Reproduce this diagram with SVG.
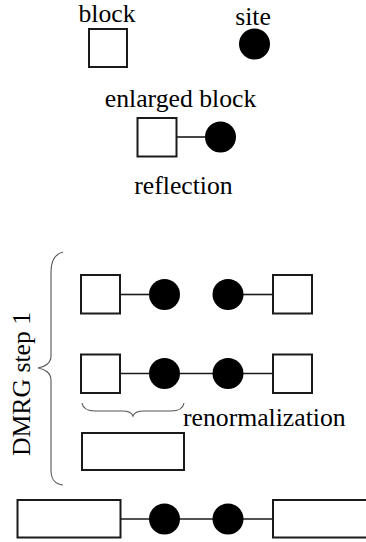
<svg xmlns="http://www.w3.org/2000/svg" width="366" height="542" viewBox="0 0 366 542">
<style>
.b{fill:#fff;stroke:#1a1a1a;stroke-width:2}
.s{fill:#000}
.l{stroke:#1a1a1a;stroke-width:1.6;fill:none}
.br{stroke:#555;stroke-width:1.1;fill:none}
text{font-family:"Liberation Serif","Times New Roman",serif;font-size:25.7px;fill:#000}
</style>
<rect width="366" height="542" fill="#fff"/>
<g id="connectors">
<line class="l" x1="176.5" y1="137" x2="205" y2="137"/>
<line class="l" x1="120" y1="294.5" x2="149" y2="294.5"/>
<line class="l" x1="243" y1="294.5" x2="273" y2="294.5"/>
<line class="l" x1="120" y1="373.5" x2="273" y2="373.5"/>
<line class="l" x1="120" y1="519" x2="273" y2="519"/>
</g>
<g id="labels">
<text x="107" y="22" text-anchor="middle">block</text>
<text x="253" y="25" text-anchor="middle">site</text>
<text x="180.5" y="107" text-anchor="middle">enlarged block</text>
<text x="183.5" y="194" text-anchor="middle">reflection</text>
<text x="183" y="426">renormalization</text>
<text transform="translate(30,384) rotate(-90)" text-anchor="middle">DMRG step 1</text>
</g>
<g id="braces">
<path class="br" d="M63,252 C55,254 51,260 51,272 L51,356 C51,363 45,367 38,368 C45,369 51,373 51,380 L51,470 C51,480 55,484 63,485"/>
<path class="br" d="M82,403 C83,409 87,411 95,411 L122,411 C128,411 132,413 133,416 C134,413 138,411 144,411 L171,411 C179,411 183,409 184,403"/>
</g>
<g id="block"><rect class="b" x="89" y="29" width="38" height="38"/></g>
<g id="site"><circle class="s" cx="254.5" cy="44" r="15.5"/></g>
<g id="enlarged-block"><rect class="b" x="137.5" y="118" width="39" height="38.5"/></g>
<g id="enlarged-site"><circle class="s" cx="220.5" cy="137" r="15.5"/></g>
<g id="r1-block-l"><rect class="b" x="81" y="275" width="39" height="38.5"/></g>
<g id="r1-site-l"><circle class="s" cx="164.5" cy="294.5" r="15.5"/></g>
<g id="r1-site-r"><circle class="s" cx="228" cy="294.5" r="15.5"/></g>
<g id="r1-block-r"><rect class="b" x="273" y="275" width="39" height="38.5"/></g>
<g id="r2-block-l"><rect class="b" x="81" y="354.5" width="39" height="38.5"/></g>
<g id="r2-site-l"><circle class="s" cx="164.5" cy="373.5" r="15.5"/></g>
<g id="r2-site-r"><circle class="s" cx="228" cy="373.5" r="15.5"/></g>
<g id="r2-block-r"><rect class="b" x="273" y="354.5" width="39" height="38.5"/></g>
<g id="renorm-block"><rect class="b" x="82" y="433" width="102" height="37"/></g>
<g id="r4-block-l"><rect class="b" x="17.5" y="500" width="103" height="37.5"/></g>
<g id="r4-site-l"><circle class="s" cx="164.5" cy="519" r="15.5"/></g>
<g id="r4-site-r"><circle class="s" cx="228" cy="519" r="15.5"/></g>
<g id="r4-block-r"><rect class="b" x="273" y="500" width="110" height="37.5"/></g>
</svg>
